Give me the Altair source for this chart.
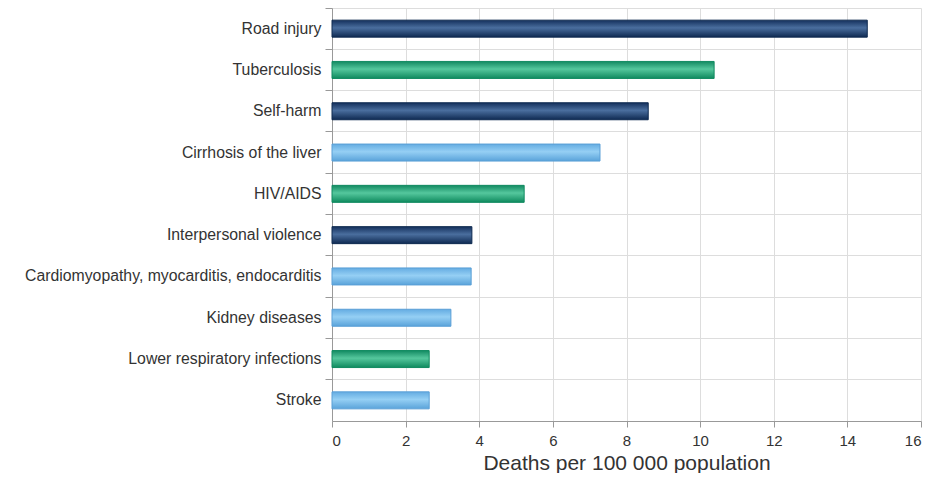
import altair as alt
import pandas as pd

causes = ["Road injury", "Tuberculosis", "Self-harm", "Cirrhosis of the liver", "HIV/AIDS",
          "Interpersonal violence", "Cardiomyopathy, myocarditis, endocarditis", "Kidney diseases",
          "Lower respiratory infections", "Stroke"]
deaths = [14.54, 10.38, 8.59, 7.28, 5.22, 3.80, 3.78, 3.23, 2.64, 2.64]
groups = ["injury", "communicable", "injury", "ncd", "communicable",
          "injury", "ncd", "ncd", "communicable", "ncd"]

df = pd.DataFrame({"cause": causes, "deaths": deaths, "group": groups})

fills = {
    "injury": ("#14305c", "#4a6e9e", "#0f2a52"),
    "communicable": ("#138a62", "#55c79d", "#0f8a5e"),
    "ncd": ("#64ace2", "#95cff4", "#5aa3da"),
}
strokes = {"injury": "#0e2a50", "communicable": "#108a60", "ncd": "#5a9fd6"}

FONT = "Liberation Sans"

x_enc = alt.X("deaths:Q", scale=alt.Scale(domain=[0, 16], nice=False),
              axis=alt.Axis(values=list(range(0, 17, 2)), title="Deaths per 100 000 population",
                            titleFontSize=21, titleFontWeight="normal", titleColor="#333333",
                            titleFont=FONT, titlePadding=4,
                            labelFont=FONT, labelFontSize=15, labelColor="#333333",
                            labelPadding=6, tickSize=6, tickColor="#999999",
                            domainColor="#999999", gridColor="#dddddd", grid=True))
y_enc = alt.Y("cause:N", sort=causes, scale=alt.Scale(paddingInner=0, paddingOuter=0),
              axis=alt.Axis(title=None, labelFont=FONT, labelFontSize=15.8, labelColor="#333333",
                            labelPadding=4, tickSize=7, tickColor="#999999", domainColor="#999999",
                            grid=True, gridColor="#dddddd", bandPosition=0, labelLimit=400))

layers = []
for g, (c0, c1, c2) in fills.items():
    grad = alt.LinearGradient(gradient="linear", x1=0, y1=0, x2=0, y2=1,
                              stops=[alt.GradientStop(offset=0, color=c0),
                                     alt.GradientStop(offset=0.45, color=c1),
                                     alt.GradientStop(offset=1, color=c2)])
    layers.append(
        alt.Chart(df).transform_filter(alt.datum.group == g)
        .mark_bar(size=17, fill=grad, stroke=strokes[g], strokeWidth=1)
        .encode(x=x_enc, y=y_enc)
    )

chart = alt.layer(*layers).properties(
    width=589, height=413,
    autosize=alt.AutoSizeParams(type="none"),
    padding={"left": 324, "top": 0, "right": 3, "bottom": 52},
).configure_view(stroke=None)

chart.save("out.html", embed_options={"renderer": "svg", "actions": False})
